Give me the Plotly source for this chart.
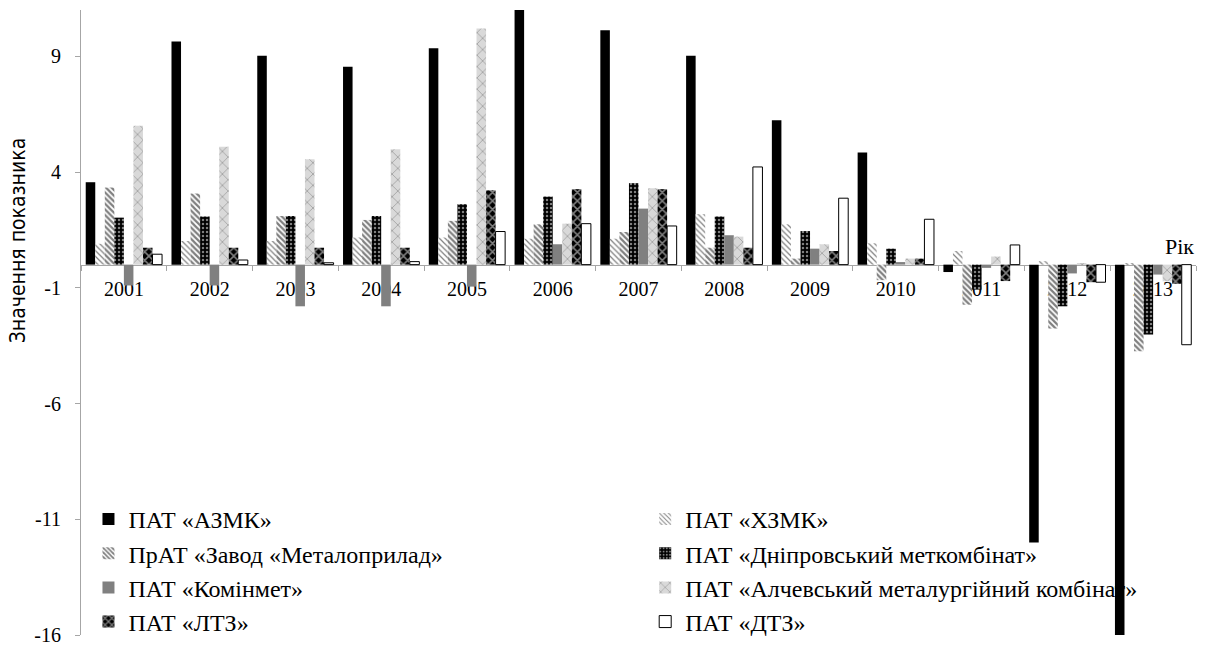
import plotly.graph_objects as go

years = ["2001", "2002", "2003", "2004", "2005", "2006", "2007",
         "2008", "2009", "2010", "2011", "2012", "2013"]

azmk = [3.56, 9.64, 9.02, 8.55, 9.35, 11.0, 10.13, 9.02, 6.24, 4.84, -0.32, -12.0, -16.0]
khzmk = [0.90, 1.02, 1.02, 1.17, 1.17, 1.12, 1.12, 2.18, 1.74, 0.92, 0.59, 0.15, 0.03]
metaloprylad = [3.33, 3.07, 2.10, 1.93, 1.89, 1.74, 1.41, 0.73, 0.26, -0.67, -1.73, -2.76, -3.74]
dnipro = [2.03, 2.08, 2.10, 2.10, 2.61, 2.94, 3.52, 2.08, 1.45, 0.69, -1.08, -1.80, -3.02]
kominmet = [-0.90, -0.90, -1.80, -1.80, -0.95, 0.88, 2.42, 1.27, 0.69, 0.11, -0.14, -0.38, -0.43]
alchevsk = [6.00, 5.09, 4.55, 4.98, 10.20, 1.77, 3.30, 1.21, 0.88, 0.26, 0.35, 0.05, -0.72]
ltz = [0.73, 0.73, 0.73, 0.73, 3.21, 3.26, 3.26, 0.73, 0.59, 0.26, -0.71, -0.76, -0.83]
dtz = [0.45, 0.20, 0.08, 0.13, 1.43, 1.77, 1.67, 4.22, 2.87, 1.96, 0.85, -0.76, -3.46]

names = [
    "ПАТ «АЗМК»",
    "ПАТ «ХЗМК»",
    "ПрАТ «Завод «Металоприлад»",
    "ПАТ «Дніпровський меткомбінат»",
    "ПАТ «Комінмет»",
    "ПАТ «Алчевський металургійний комбінат»",
    "ПАТ «ЛТЗ»",
    "ПАТ «ДТЗ»",
]
series = [azmk, khzmk, metaloprylad, dnipro, kominmet, alchevsk, ltz, dtz]

y_min, y_max, y_step = -16, 11, 5
y_ticks = list(range(y_min, y_max + 1, y_step))
y_ticktext = [str(v) for v in y_ticks]

styles = [
    dict(color="black", pattern=None, line=None),
    dict(color="white", pattern=dict(shape="\\", fgcolor="black", bgcolor="white", size=4, solidity=0.3), line=None),
    dict(color="white", pattern=dict(shape="\\", fgcolor="black", bgcolor="white", size=4, solidity=0.55), line=None),
    dict(color="black", pattern=dict(shape=".", fgcolor="white", bgcolor="black", size=4, solidity=0.3), line=None),
    dict(color="#808080", pattern=None, line=None),
    dict(color="#d9d9d9", pattern=dict(shape="x", fgcolor="#404040", bgcolor="#d9d9d9", size=8, solidity=0.15), line=None),
    dict(color="black", pattern=dict(shape="x", fgcolor="white", bgcolor="black", size=6, solidity=0.45), line=None),
    dict(color="white", pattern=None, line=dict(color="black", width=1)),
]

serif = "Liberation Serif, Times New Roman, serif"

fig = go.Figure()
for i, (nm, vals, st) in enumerate(zip(names, series, styles)):
    marker = dict(color=st["color"])
    if st["pattern"]:
        marker["pattern"] = st["pattern"]
    marker["line"] = st["line"] if st["line"] else dict(width=0)
    fig.add_trace(go.Bar(
        x=years, y=vals, name=nm, marker=marker,
        legend="legend" if i % 2 == 0 else "legend2",
        legendgroup=f"g{i}",
    ))

zero_pos = (0 - y_min) / (y_max - y_min)

fig.update_layout(
    width=1205, height=648,
    margin=dict(l=81, r=9, t=10, b=13, autoexpand=False),
    paper_bgcolor="white", plot_bgcolor="white",
    barmode="group", bargap=0.11, bargroupgap=0,
    font=dict(family=serif, size=20, color="black"),
    xaxis=dict(
        type="category", anchor="free", position=zero_pos,
        showline=True, linecolor="#a6a6a6", linewidth=1,
        ticks="outside", tickson="boundaries", ticklen=5, tickcolor="#a6a6a6",
        showgrid=False, zeroline=False, layer="below traces",
        ticklabelstandoff=6, automargin=False,
        tickfont=dict(family=serif, size=20, color="black"),
    ),
    yaxis=dict(
        range=[y_min, y_max], tickmode="array", tickvals=y_ticks, ticktext=y_ticktext,
        showline=True, linecolor="#a6a6a6", linewidth=1,
        ticks="outside", ticklen=5, tickcolor="#a6a6a6",
        showgrid=False, zeroline=False, ticklabelstandoff=10,
        ticklabeloverflow="allow", automargin=False,
        tickfont=dict(family=serif, size=20, color="black"),
    ),
    legend=dict(
        x=0.0067, y=0.221, xanchor="left", yanchor="top",
        bgcolor="rgba(0,0,0,0)", tracegroupgap=0,
        font=dict(family=serif, size=24, color="black"),
    ),
    legend2=dict(
        x=0.506, y=0.221, xanchor="left", yanchor="top",
        bgcolor="rgba(0,0,0,0)", tracegroupgap=0,
        font=dict(family=serif, size=24, color="black"),
    ),
    annotations=[
        dict(text="Значення показника", xref="paper", yref="paper",
             x=-0.0565, y=0.63, xanchor="center", yanchor="middle",
             textangle=-90, showarrow=False,
             font=dict(family="Liberation Sans Narrow, DejaVu Sans Condensed, Arial Narrow, sans-serif", size=21, color="black")),
        dict(text="Рік", xref="paper", yref="y", x=1.0, y=0,
             xanchor="right", yanchor="bottom", yshift=4, showarrow=False,
             font=dict(family=serif, size=22, color="black")),
    ],
)

fig.write_html(
    "out.html",
    config={"displayModeBar": False},
    post_script="document.body.style.margin='0px';document.body.style.overflow='hidden';",
)
